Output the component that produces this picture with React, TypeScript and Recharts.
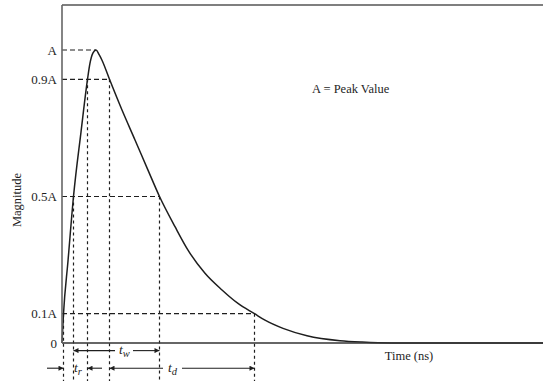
import React from "react";
import { LineChart, Line, XAxis, YAxis, ReferenceLine, ReferenceDot } from "recharts";

// Pulse waveform (time in ns, magnitude as fraction of peak A)
const TIMES = [0, 0.15, 0.6, 1.15, 1.9, 2.55, 2.8, 3.1, 3.4, 3.7, 4.0, 4.75, 6.0, 7.3, 8.6, 9.75, 11.3, 12.6, 14.3, 16.0, 17.6, 19.25, 20.3, 22.1, 24.5, 27.8, 30.0, 33.0, 48.1];
const MAGS = [0, 0.1, 0.28, 0.5, 0.72, 0.9, 0.955, 0.99, 1.0, 0.985, 0.965, 0.9, 0.795, 0.693, 0.59, 0.5, 0.397, 0.317, 0.238, 0.181, 0.135, 0.1, 0.078, 0.05, 0.025, 0.008, 0.003, 0, 0];

// Level markers
const LEVELS = [1, 0.9, 0.5, 0.1];
const LEVEL_ENDS = [3.4, 4.75, 9.75, 19.25]; // where horizontal dashes meet the curve
const CROSS_TIMES = [0.15, 1.15, 2.55, 4.75, 9.75, 19.25];
const CROSS_LEVELS = [0.1, 0.5, 0.9, 0.9, 0.5, 0.1];

const Y_TICKS = [0, 0.1, 0.5, 0.9, 1];
const Y_TICK_LABELS: Record<string, string> = { "0": "0", "0.1": "0.1A", "0.5": "0.5A", "0.9": "0.9A", "1": "A" };

const X_MAX = 48.1;
const Y_MAX = 1.1536;
const ROW1 = -0.026;
const ROW2 = -0.086;
const BELOW = -0.13;

const data = TIMES.map((t, i) => ({ t, v: MAGS[i] }));

const INK = "#1e1e1e";
const SERIF = "'Liberation Serif', 'Times New Roman', serif";

const ArrowDefs = () => (
  <svg width={0} height={0} style={{ position: "absolute" }}>
    <defs>
      <marker id="arr" viewBox="0 0 10 10" refX="10" refY="5" markerWidth="7" markerHeight="5" markerUnits="userSpaceOnUse" orient="auto-start-reverse">
        <path d="M0,0 L10,5 L0,10 z" fill={INK} />
      </marker>
    </defs>
  </svg>
);

const subText = (main: string, sub: string) => (props: any) => (
  <text x={props.cx} y={props.cy} fontFamily={SERIF} fontStyle="italic" fill={INK} fontSize={13.5}>
    {main}
    <tspan fontSize={10.5} dy={3}>{sub}</tspan>
  </text>
);

const plainText = (txt: string) => (props: any) => (
  <text x={props.cx} y={props.cy} fontFamily={SERIF} fill={INK} fontSize={12.5}>
    {txt}
  </text>
);

export default function App() {
  return (
    <div style={{ position: "absolute", left: 0, top: 0, width: 543, height: 381, background: "#fff" }}>
      <ArrowDefs />
      <LineChart width={543} height={381} data={data} margin={{ top: 5, right: 0, bottom: 0, left: 0 }}>
        <XAxis
          dataKey="t"
          type="number"
          domain={[0, X_MAX]}
          tick={false}
          tickLine={false}
          height={38}
          axisLine={{ stroke: "#333", strokeWidth: 1.4 }}
          label={{
            content: (p: any) => (
              <text x={p.viewBox.x + 347} y={p.viewBox.y + 17} textAnchor="middle" fontFamily={SERIF} fontSize={12.5} fill={INK}>
                Time (ns)
              </text>
            ),
          }}
        />
        <YAxis
          type="number"
          domain={[0, Y_MAX]}
          ticks={Y_TICKS}
          width={62}
          tickLine={false}
          tickSize={0}
          tickMargin={5}
          interval={0}
          axisLine={{ stroke: "#666", strokeWidth: 1.6 }}
          tick={{ fontFamily: SERIF, fontSize: 13, fill: INK }}
          tickFormatter={(v: number) => Y_TICK_LABELS[String(v)]}
          label={{
            content: (p: any) => {
              const x = p.viewBox.x + 21;
              const y = p.viewBox.y + p.viewBox.height / 2 + 26;
              return (
                <text x={x} y={y} transform={`rotate(-90, ${x}, ${y})`} textAnchor="middle" fontFamily={SERIF} fontSize={12.5} fill={INK}>
                  Magnitude
                </text>
              );
            },
          }}
        />
        {/* top frame line */}
        <ReferenceLine y={Y_MAX} stroke="#555" strokeWidth={1.5} ifOverflow="visible" />

        {LEVELS.map((lv, i) => (
          <ReferenceLine
            key={"h" + i}
            segment={[{ x: 0, y: lv }, { x: LEVEL_ENDS[i], y: lv }]}
            stroke={INK}
            strokeWidth={1.2}
            strokeDasharray="5 3"
            ifOverflow="visible"
          />
        ))}
        {CROSS_TIMES.map((t, i) => (
          <ReferenceLine
            key={"v" + i}
            segment={[{ x: t, y: CROSS_LEVELS[i] }, { x: t, y: BELOW }]}
            stroke={INK}
            strokeWidth={1.2}
            strokeDasharray="3 3"
            ifOverflow="visible"
          />
        ))}

        {/* t_w arrows */}
        <ReferenceLine segment={[{ x: 1.15, y: ROW1 }, { x: 5.3, y: ROW1 }]} stroke={INK} strokeWidth={1.1} markerStart="url(#arr)" ifOverflow="visible" />
        <ReferenceLine segment={[{ x: 7.1, y: ROW1 }, { x: 9.75, y: ROW1 }]} stroke={INK} strokeWidth={1.1} markerEnd="url(#arr)" ifOverflow="visible" />
        <ReferenceDot x={5.7} y={ROW1 - 0.012} r={0} ifOverflow="visible" shape={subText("t", "w")} />

        {/* t_r arrows */}
        <ReferenceLine segment={[{ x: -1.5, y: ROW2 }, { x: 0.15, y: ROW2 }]} stroke={INK} strokeWidth={1.1} markerEnd="url(#arr)" ifOverflow="visible" />
        <ReferenceLine segment={[{ x: 4.0, y: ROW2 }, { x: 2.55, y: ROW2 }]} stroke={INK} strokeWidth={1.1} markerEnd="url(#arr)" ifOverflow="visible" />
        <ReferenceDot x={1.2} y={ROW2 - 0.012} r={0} ifOverflow="visible" shape={subText("t", "r")} />

        {/* t_d arrows */}
        <ReferenceLine segment={[{ x: 4.75, y: ROW2 }, { x: 10.1, y: ROW2 }]} stroke={INK} strokeWidth={1.1} markerStart="url(#arr)" ifOverflow="visible" />
        <ReferenceLine segment={[{ x: 12.0, y: ROW2 }, { x: 19.25, y: ROW2 }]} stroke={INK} strokeWidth={1.1} markerEnd="url(#arr)" ifOverflow="visible" />
        <ReferenceDot x={10.6} y={ROW2 - 0.012} r={0} ifOverflow="visible" shape={subText("t", "d")} />

        {/* annotation */}
        <ReferenceDot x={25} y={0.853} r={0} ifOverflow="visible" shape={plainText("A = Peak Value")} />

        <Line type="monotone" dataKey="v" stroke={INK} strokeWidth={1.5} dot={false} isAnimationActive={false} />
      </LineChart>
    </div>
  );
}
